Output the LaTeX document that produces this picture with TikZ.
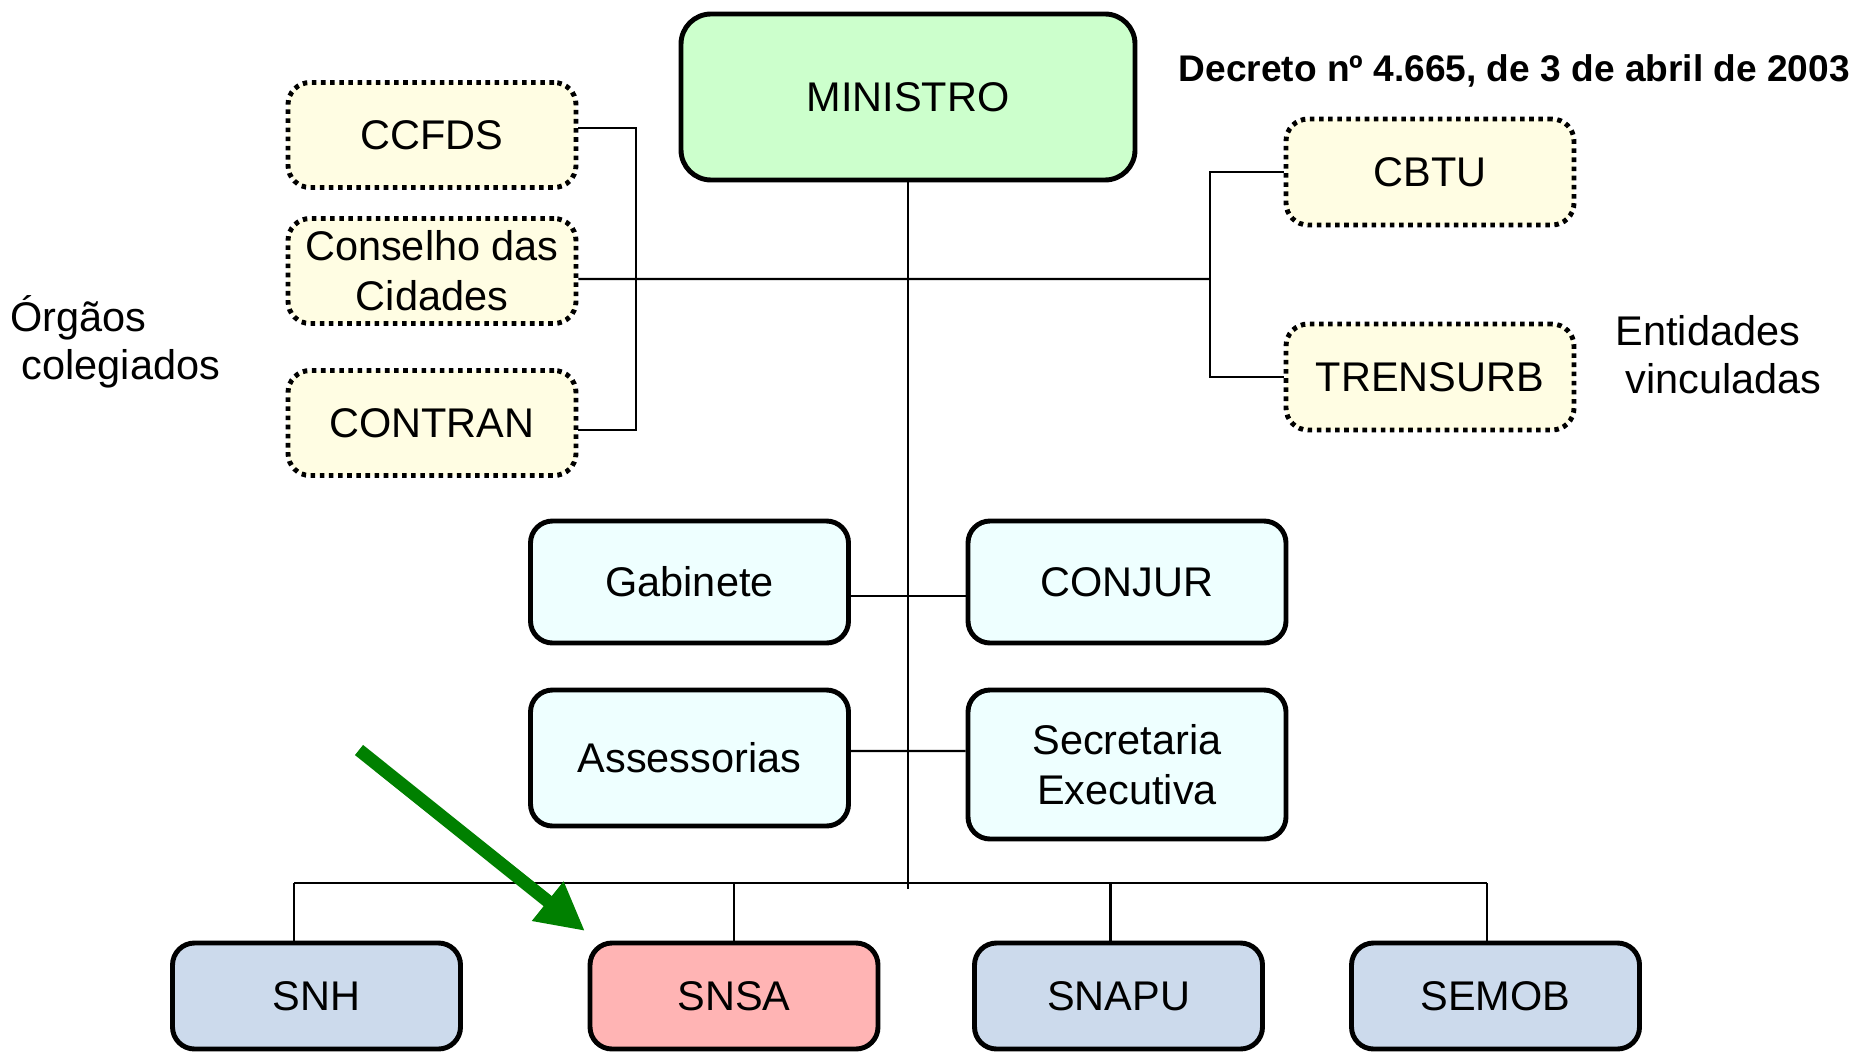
\documentclass[tikz,border=0pt]{standalone}
\usepackage{fontspec}
\setmainfont{Liberation Sans}
\usetikzlibrary{arrows.meta}

\definecolor{ministrofill}{HTML}{CCFFCC}
\definecolor{colegfill}{HTML}{FFFDE3}
\definecolor{assessfill}{HTML}{EEFFFF}
\definecolor{secfill}{HTML}{CCDAEC}
\definecolor{snsafill}{HTML}{FFB4B4}
\definecolor{setagreen}{HTML}{008000}

\tikzset{
	box/.style={draw, line width=1.4pt, rounded corners=0.22cm, align=center, inner sep=0pt,
		font=\fontsize{11.8}{14.2}\selectfont},
	colegio/.style={box, line width=1.4pt, dash pattern=on 1.3pt off 1.3pt, fill=colegfill,
		minimum width=2.88cm, minimum height=1.05cm},
	apoio/.style={box, fill=assessfill, minimum width=3.18cm},
	secretaria/.style={box, fill=secfill, minimum width=2.88cm, minimum height=1.06cm},
	link/.style={line width=0.6pt},
	legenda/.style={align=left, inner sep=0pt, font=\fontsize{11.8}{13.6}\selectfont}
}

\begin{document}
\begin{tikzpicture}
			%%%%% START %%%%%
			
			\useasboundingbox (0, 0) rectangle (18.54, -10.51);
			
			\node[box, fill=ministrofill, minimum width=4.54cm, minimum height=1.66cm, rounded corners=0.3cm] (ministro) at (9.08, -0.97) {MINISTRO};
			\node[anchor=west, inner sep=0pt, font=\fontsize{10.55}{12}\selectfont\bfseries] (decreto) at (11.78, -0.71) {Decreto nº 4.665, de 3 de abril de 2003};
			
			\node[colegio] (ccfds) at (4.32, -1.35) {CCFDS};
			\node[colegio] (conselho) at (4.32, -2.71) {Conselho das\\Cidades};
			\node[colegio] (contran) at (4.32, -4.23) {CONTRAN};
			\node[legenda, anchor=west] (orgaos) at (0.10, -3.42) {Órgãos\\\hspace*{0.11cm}colegiados};
			
			\node[colegio, minimum height=1.06cm] (cbtu) at (14.30, -1.72) {CBTU};
			\node[colegio, minimum height=1.06cm] (trensurb) at (14.30, -3.77) {TRENSURB};
			\node[legenda, anchor=west] (entidades) at (16.15, -3.55) {Entidades\\\hspace*{0.1cm}vinculadas};
			
			\node[apoio, minimum height=1.22cm] (gabinete) at (6.895, -5.82) {Gabinete};
			\node[apoio, minimum height=1.22cm] (conjur) at (11.27, -5.82) {CONJUR};
			\node[apoio, minimum height=1.36cm] (assess) at (6.895, -7.58) {Assessorias};
			\node[apoio, minimum height=1.49cm] (secexec) at (11.27, -7.645) {Secretaria\\Executiva};
			
			\node[secretaria] (snh) at (3.165, -9.96) {SNH};
			\node[secretaria, fill=snsafill] (snsa) at (7.34, -9.96) {SNSA};
			\node[secretaria] (snapu) at (11.185, -9.96) {SNAPU};
			\node[secretaria] (semob) at (14.955, -9.96) {SEMOB};
			
			% junctions
			\coordinate (lbr) at (6.36, -2.79);
			\coordinate (rbr) at (12.10, -2.79);
			\coordinate (mend) at (9.08, -8.89);
			\coordinate (busl) at (2.94, -8.83);
			\coordinate (busr) at (14.87, -8.83);
			
			\draw[link] (ministro.south) -- (mend);
			\draw[link] ([yshift=-0.08cm]conselho.east) -- (rbr);
			\draw[link] ([yshift=0.07cm]ccfds.east) -| (lbr);
			\draw[link] ([yshift=-0.07cm]contran.east) -| (lbr);
			\draw[link] (cbtu.west) -| (rbr);
			\draw[link] (trensurb.west) -| (rbr);
			
			\draw[link] ([yshift=-0.14cm]gabinete.east) -- ([yshift=-0.14cm]conjur.west);
			\draw[link] ([yshift=0.07cm]assess.east) -- ([yshift=0.135cm]secexec.west);
			
			\draw[link] (busl) -- (busr);
			\draw[link] (busl) -- (busl |- snh.north);
			\draw[link] (snsa.north |- busl) -- (snsa.north);
			\draw[link] ([xshift=-0.08cm]snapu.north |- busl) -- ([xshift=-0.08cm]snapu.north);
			\draw[link] (busr) -- (busr |- semob.north);
			
			% seta verde
			\coordinate (ptail) at (3.59, -7.50);
			\coordinate (ptip) at (5.85, -9.31);
			\draw[line width=3.7pt, color=setagreen, -{Triangle[width=13.4pt, length=13.6pt]}] (ptail) -- (ptip);
			
			%%%%% END %%%%%
		\end{tikzpicture}
\end{document}
